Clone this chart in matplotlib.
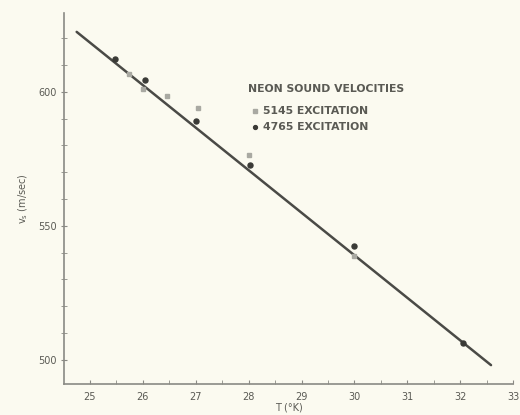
import matplotlib
matplotlib.use("Agg")
import matplotlib.pyplot as plt
from matplotlib.ticker import MultipleLocator

# 5145 excitation (light marks)
t_5145 = [25.74, 26.0, 26.46, 27.05, 28.0, 30.0]
v_5145 = [606.7, 601.0, 598.5, 594.0, 576.5, 538.8]
# 4765 excitation (dark marks)
t_4765 = [25.47, 26.04, 27.0, 28.02, 30.0, 32.05]
v_4765 = [612.3, 604.5, 589.0, 572.8, 542.5, 506.3]
# drawn straight line
line_t = [24.75, 32.58]
line_v = [622.4, 498.0]

bg = '#fbfaf0'
ink = '#5a5a54'

fig = plt.figure(figsize=(5.2, 4.15), dpi=100, facecolor=bg)
ax = fig.add_axes([0.123, 0.075, 0.864, 0.894], facecolor=bg)

ax.plot(line_t, line_v, color='#4a4a46', lw=1.8, solid_capstyle='round')
ax.plot(t_5145, v_5145, 's', ms=3.2, color='#a9a9a2', mec='#a9a9a2')
ax.plot(t_4765, v_4765, 'o', ms=3.6, color='#3a3a36')

ax.set_xlim(24.51, 33.0)
ax.set_ylim(491, 629.5)
ax.xaxis.set_major_locator(MultipleLocator(1))
ax.xaxis.set_minor_locator(MultipleLocator(0.5))
ax.set_yticks([500, 550, 600])
ax.yaxis.set_minor_locator(MultipleLocator(10))

for s in ['top', 'right']:
    ax.spines[s].set_visible(False)
for s in ['left', 'bottom']:
    ax.spines[s].set_color('#8a8a84')
    ax.spines[s].set_linewidth(1.2)

ax.tick_params(axis='x', which='both', direction='in', length=3, color='#8a8a84',
               labelsize=7, labelcolor=ink, pad=6)
ax.tick_params(axis='y', which='both', direction='inout', length=4, color='#8a8a84',
               labelsize=7, labelcolor=ink, pad=3)

ax.set_xlabel('T (°K)', fontsize=7, color=ink, labelpad=0)
ax.set_ylabel(r'v$_\mathregular{s}$ (m/sec)', fontsize=7, color=ink, labelpad=6)

ax.text(0.41, 0.795, 'NEON SOUND VELOCITIES', transform=ax.transAxes,
        fontsize=7.8, color=ink, va='center', fontweight='bold')
ax.plot([0.425], [0.736], 's', ms=2.5, color='#a9a9a2', transform=ax.transAxes)
ax.text(0.442, 0.736, '5145 EXCITATION', transform=ax.transAxes,
        fontsize=7.8, color=ink, va='center', fontweight='bold')
ax.plot([0.425], [0.693], 'o', ms=2.8, color='#3a3a36', transform=ax.transAxes)
ax.text(0.442, 0.693, '4765 EXCITATION', transform=ax.transAxes,
        fontsize=7.8, color=ink, va='center', fontweight='bold')

fig.savefig('out.png', dpi=100, facecolor=bg)
